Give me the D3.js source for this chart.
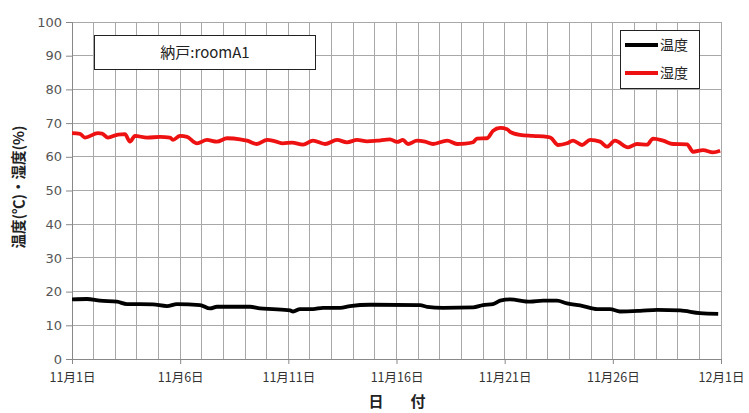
<!DOCTYPE html>
<html><head><meta charset="utf-8">
<script src="https://cdn.jsdelivr.net/npm/d3@7"></script>
<style>body{margin:0;background:#fff;} svg{display:block;}</style>
</head><body>
<svg id="chart" width="749" height="413"></svg>
<script>
const chartTitle = "納戸:roomA1";
const seriesNames = ["温度", "湿度"];
const yTitle = "温度(℃)・湿度(%)";
const xTitle = "日　付";
const xTickLabels = ["11月1日","11月6日","11月11日","11月16日","11月21日","11月26日","12月1日"];
const yTicks = [0,10,20,30,40,50,60,70,80,90,100];

// day offsets from 11/1 and values
const humDays = [0,0.37,0.6,1.2,1.39,1.66,2.13,2.45,2.68,2.91,3.47,4.07,4.53,4.67,4.99,5.32,5.78,6.24,6.7,7.17,7.77,8.09,8.55,9.02,9.39,9.75,10.17,10.68,11.14,11.7,12.25,12.71,13.18,13.64,14.1,14.7,15.03,15.3,15.53,15.95,16.32,16.69,17.34,17.8,18.17,18.54,18.72,19.19,19.46,19.79,20.11,20.25,20.71,21.31,21.96,22.14,22.47,22.88,23.16,23.58,23.95,24.41,24.73,25.1,25.7,26.12,26.58,26.86,27.32,27.79,28.43,28.71,29.17,29.63,29.96];
const humValues = [67.0,66.8,65.7,67.0,66.9,65.7,66.6,66.7,64.5,66.2,65.7,65.9,65.7,65.0,66.2,65.9,64.0,65.0,64.5,65.5,65.2,64.8,63.8,65.0,64.6,64.0,64.2,63.6,64.8,63.8,65.0,64.3,65.0,64.6,64.8,65.2,64.4,65.0,63.8,64.8,64.5,63.8,64.8,63.8,63.9,64.3,65.4,65.5,67.7,68.6,68.2,67.4,66.5,66.2,65.9,65.6,63.5,64.0,64.8,63.5,65.0,64.5,63.0,64.8,62.8,63.8,63.6,65.4,64.8,63.8,63.7,61.5,62.0,61.3,61.8];
const tempDays = [0,0.69,1.29,2.08,2.54,3.14,3.74,4.39,4.85,5.92,6.38,6.7,8.23,8.69,9.29,10.08,10.22,10.54,11.14,11.6,12.39,12.85,13.78,16.09,16.41,17.15,18.54,19.0,19.46,19.79,20.25,21.17,21.78,22.42,22.88,23.62,24.27,24.87,25.33,26.26,27.05,28.11,29.03,29.87];
const tempValues = [17.7,17.8,17.3,17.0,16.3,16.3,16.2,15.7,16.3,16.0,15.0,15.5,15.5,15.0,14.8,14.4,14.1,14.8,14.8,15.2,15.2,15.7,16.1,16.0,15.5,15.2,15.3,16.0,16.3,17.3,17.7,17.0,17.3,17.3,16.5,15.7,14.8,14.8,14.1,14.3,14.6,14.4,13.6,13.4];

const svg = d3.select("#chart");
const m = {left:72, right:28, top:22, bottom:54};
const W = 749, H = 413;
const x = d3.scaleLinear().domain([0,30]).range([m.left, W-m.right]);
const y = d3.scaleLinear().domain([0,100]).range([H-m.bottom, m.top]);
const gridColor = "#a8a8a8";

// grid
const g = svg.append("g");
g.selectAll("line.v").data(d3.range(0,31)).join("line")
  .attr("x1", d=>x(d)).attr("x2", d=>x(d)).attr("y1", y(0)).attr("y2", y(100))
  .attr("stroke", gridColor).attr("stroke-width",1).attr("shape-rendering","crispEdges");
g.selectAll("line.h").data(yTicks).join("line")
  .attr("x1", x(0)).attr("x2", x(30)).attr("y1", d=>y(d)).attr("y2", d=>y(d))
  .attr("stroke", gridColor).attr("stroke-width",1).attr("shape-rendering","crispEdges");

// axes
const yAxis = svg.append("g").attr("transform",`translate(${x(0)},0)`)
  .call(d3.axisLeft(y).tickValues(yTicks).tickSize(6).tickPadding(4));
yAxis.select(".domain").attr("stroke","#888");
yAxis.selectAll(".tick line").attr("stroke","#888");
yAxis.selectAll("text").attr("font-family","DejaVu Sans, Verdana, sans-serif").attr("font-size",13).attr("fill","#555");

const xAxis = svg.append("g").attr("transform",`translate(0,${y(0)})`)
  .call(d3.axisBottom(x).tickValues([0,5,10,15,20,25,30]).tickSize(5).tickPadding(9)
    .tickFormat((d,i)=>xTickLabels[i]));
xAxis.select(".domain").attr("stroke","#888");
xAxis.selectAll(".tick line").attr("stroke","#888");
xAxis.selectAll("text").attr("font-family","Noto Sans CJK JP, sans-serif").attr("font-size",12.5).attr("fill","#333");

// lines
const line = d3.line().x(d=>x(d[0])).y(d=>y(d[1])).curve(d3.curveMonotoneX);
svg.append("path").datum(humDays.map((d,i)=>[d,humValues[i]]))
  .attr("d", line).attr("fill","none").attr("stroke","#ee1111").attr("stroke-width",3.8).attr("stroke-linejoin","round");
svg.append("path").datum(tempDays.map((d,i)=>[d,tempValues[i]]))
  .attr("d", line).attr("fill","none").attr("stroke","#000").attr("stroke-width",3.8).attr("stroke-linejoin","round");

// title box
svg.append("rect").attr("x",94.5).attr("y",35.5).attr("width",221).attr("height",34)
  .attr("fill","#fff").attr("stroke","#222").attr("stroke-width",1);
svg.append("text").attr("x",205).attr("y",58).attr("text-anchor","middle")
  .attr("font-family","Noto Sans CJK JP, sans-serif").attr("font-size",15).attr("fill","#222").text(chartTitle);

// legend
svg.append("rect").attr("x",620.5).attr("y",30.5).attr("width",79).attr("height",58)
  .attr("fill","#fff").attr("stroke","#222").attr("stroke-width",1);
const legColors = ["#000","#ee1111"];
seriesNames.forEach((n,i)=>{
  const ly = 45 + i*28;
  svg.append("line").attr("x1",625).attr("x2",658).attr("y1",ly).attr("y2",ly)
    .attr("stroke",legColors[i]).attr("stroke-width",3.8);
  svg.append("text").attr("x",660).attr("y",ly+5).attr("font-family","Noto Sans CJK JP, sans-serif")
    .attr("font-size",14).attr("fill","#222").text(n);
});

// axis titles
svg.append("text").attr("transform","translate(24,187) rotate(-90)").attr("text-anchor","middle")
  .attr("font-family","Noto Sans CJK JP, sans-serif").attr("font-size",14.5).attr("font-weight","bold").attr("fill","#222").text(yTitle);
svg.append("text").attr("x",400).attr("y",407).attr("text-anchor","middle")
  .attr("font-family","Noto Sans CJK JP, sans-serif").attr("font-size",15).attr("font-weight","bold").attr("fill","#222")
  .attr("letter-spacing","6").attr("xml:space","preserve").text(xTitle);
</script>
</body></html>
